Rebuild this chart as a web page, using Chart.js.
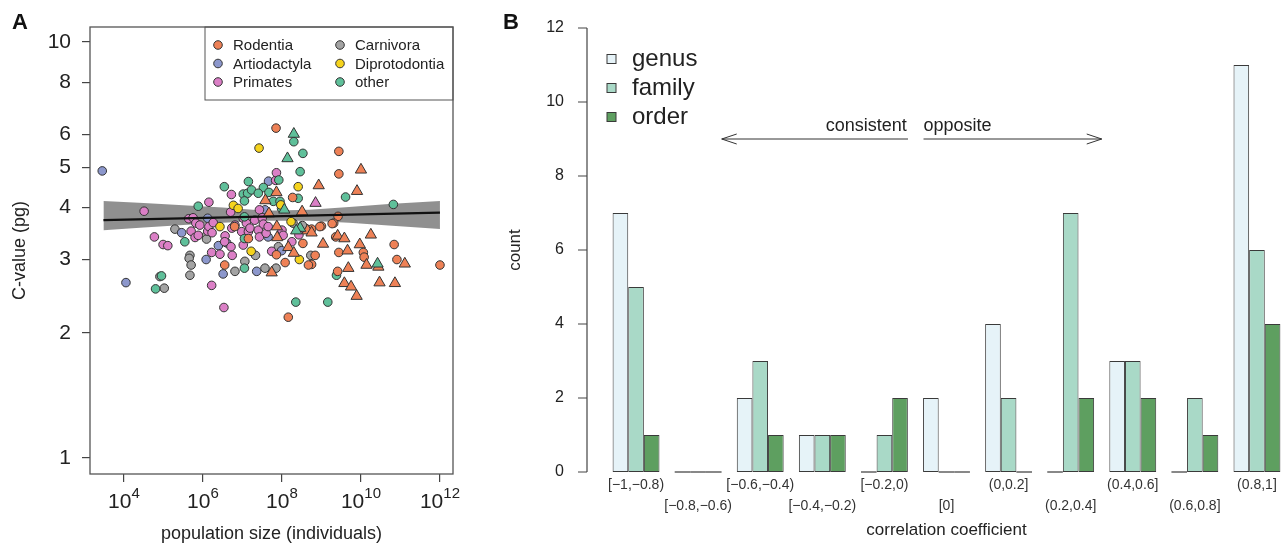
<!DOCTYPE html>
<html lang="en">
<head>
<meta charset="UTF-8">
<title>C-value vs population size</title>
<script src="https://cdn.jsdelivr.net/npm/chart.js"></script>
<style>
  body { margin: 0; background: #fff; font-family: "Liberation Sans", Arial, sans-serif; }
  .wrap { position: relative; width: 1288px; height: 543px; overflow: hidden; background: #fff; }
  #chartA { position: absolute; left: 0; top: 0; }
  #chartB { position: absolute; left: 480px; top: 0; }
  .panel { position: absolute; top: 9px; font-weight: bold; font-size: 22px; color: #111; }
</style>
</head>
<body>
<div class="wrap">
  <canvas id="chartA" width="480" height="543"></canvas>
  <canvas id="chartB" width="808" height="543"></canvas>
  <div class="panel" style="left: 12px;">A</div>
  <div class="panel" style="left: 503px;">B</div>
</div>
<script>
// ---- panel A data: [log10 population size, C-value (pg)] ----
const rodentia = [[7.85,6.21],[9.44,5.46],[9.44,4.82],[8.27,4.23],[9.42,3.81],[9.31,3.67],[9.0,3.61],[8.75,3.55],[8.53,3.28],[10.84,3.26],[9.44,3.12],[10.06,3.12],[10.08,3.04],[10.91,3.0],[12.0,2.91],[8.75,2.92],[8.08,2.95],[6.55,2.91],[6.8,3.6],[7.15,3.37],[8.67,2.91],[8.96,3.60],[9.27,3.66],[8.84,3.07],[9.36,3.40],[9.41,2.81],[8.16,2.18],[7.86,3.08]];
const rodentiaTri = [[7.86,4.35],[7.58,4.16],[8.93,4.52],[9.9,4.38],[10.0,4.93],[7.67,3.87],[8.51,3.91],[7.87,3.60],[7.88,3.39],[8.16,3.21],[8.3,3.11],[8.65,3.52],[8.75,3.48],[9.04,3.27],[9.41,3.42],[9.58,3.37],[10.25,3.44],[9.97,3.26],[9.66,3.15],[10.14,2.91],[9.68,2.86],[11.11,2.93],[9.58,2.63],[9.75,2.58],[9.89,2.45],[10.47,2.64],[10.86,2.63],[7.74,2.79],[10.44,2.88]];
const artiodactyla = [[3.45,4.90],[4.05,2.64],[6.08,3.0],[5.46,3.48],[6.12,3.77],[7.66,4.63],[6.39,3.24],[6.6,3.29],[7.65,3.40],[7.99,3.15],[7.36,2.81],[6.51,2.77],[7.57,3.95]];
const primates = [[4.51,3.92],[4.77,3.40],[4.99,3.26],[5.11,3.24],[5.64,3.76],[5.75,3.78],[5.70,3.51],[5.80,3.39],[5.88,3.43],[5.82,3.67],[5.92,3.63],[6.12,3.51],[6.15,3.60],[6.26,3.68],[6.23,3.48],[6.15,4.12],[6.22,3.12],[6.22,2.60],[6.53,2.30],[6.43,3.09],[6.56,3.42],[6.55,3.31],[6.71,3.22],[6.74,3.07],[6.73,3.57],[6.81,3.63],[6.70,3.90],[6.72,4.30],[6.98,3.50],[7.02,3.25],[7.02,3.77],[7.10,3.67],[7.15,3.50],[7.19,3.57],[7.31,3.73],[7.40,3.53],[7.43,3.40],[7.43,3.95],[7.50,3.78],[7.53,3.65],[7.60,3.47],[7.65,3.60],[7.74,3.14],[7.84,4.65],[7.86,4.85],[8.0,3.53],[8.03,3.43],[8.25,3.31],[8.43,3.44]];
const primatesTri = [[8.85,4.10]];
const carnivora = [[4.91,2.73],[5.02,2.56],[5.29,3.55],[5.67,3.07],[5.65,3.02],[5.70,2.91],[5.67,2.75],[6.09,3.43],[6.09,3.36],[7.57,2.86],[7.85,2.86],[6.81,2.81],[7.06,2.97],[7.33,3.07],[7.91,3.22],[8.73,3.07],[8.52,3.62],[8.28,3.67]];
const diprotodontia = [[7.42,5.56],[8.41,4.49],[7.97,4.06],[6.77,4.05],[6.89,3.98],[6.43,3.60],[8.23,3.70],[8.44,3.0],[7.22,3.14]];
const other = [[8.30,5.76],[8.53,5.40],[8.46,4.88],[7.92,4.66],[7.15,4.62],[6.54,4.49],[7.02,4.31],[7.13,4.33],[7.23,4.41],[7.53,4.47],[7.40,4.33],[7.67,4.35],[7.05,4.15],[7.78,4.14],[7.95,4.14],[8.41,4.21],[7.99,3.98],[5.88,4.03],[4.95,2.74],[4.80,2.55],[5.54,3.31],[9.61,4.24],[10.82,4.07],[8.35,2.37],[9.16,2.37],[7.05,2.86],[9.38,2.75],[7.05,3.37],[7.05,3.80]];
const otherTri = [[8.30,6.01],[8.14,5.25],[8.06,3.95],[8.46,3.57],[8.36,3.52],[10.42,2.93]];

// regression line and its band
const fitLine = [[3.48,3.73],[12.0,3.89]];
const bandX = [3.48, 4.5, 5.5, 6.5, 7.6, 8.7, 9.7, 10.7, 12.0];
const bandUpper = [4.15, 4.10, 4.05, 4.00, 3.93, 3.95, 4.01, 4.08, 4.15];
const bandLower = [3.53, 3.58, 3.63, 3.68, 3.72, 3.72, 3.68, 3.62, 3.55];

const xTickExp = [4, 6, 8, 10, 12];
const yTicksA = [1, 2, 3, 4, 5, 6, 8, 10];

// ---- panel B data ----
const corrBins = ['[\u22121,\u22120.8)', '[\u22120.8,\u22120.6)', '[\u22120.6,\u22120.4)', '[\u22120.4,\u22120.2)', '[\u22120.2,0)', '[0]', '(0,0.2]', '(0.2,0.4]', '(0.4,0.6]', '(0.6,0.8]', '(0.8,1]'];
const genusCounts  = [7, 0, 2, 1, 0, 2, 4, 0, 3, 0, 11];
const familyCounts = [5, 0, 3, 1, 1, 0, 2, 7, 3, 2, 6];
const orderCounts  = [1, 0, 1, 1, 2, 0, 0, 2, 2, 1, 4];
const yTicksB = [0, 2, 4, 6, 8, 10, 12];

const fontFam = '"Liberation Sans", Arial, sans-serif';
Chart.defaults.font.family = fontFam;
Chart.defaults.color = '#222';

const groupColors = {
    Rodentia: '#EE8156', Artiodactyla: '#8C97CC', Primates: '#DB7FC6',
    Carnivora: '#A3A3A3', Diprotodontia: '#F5D31D', other: '#5FC09A'
};

function pts(arr) { return arr.map(p => ({ x: p[0], y: p[1] })); }

function dots(arr, color, order) {
    return { data: pts(arr), backgroundColor: color, borderColor: '#333', borderWidth: 1,
             pointStyle: 'circle', pointRadius: 4.3, order: order };
}
function tris(arr, color, order) {
    return { data: pts(arr), backgroundColor: color, borderColor: '#333', borderWidth: 1,
             pointStyle: 'triangle', pointRadius: 6.5, order: order };
}

// box around plot A, superscript x labels and the legend
const panelAExtras = {
    id: 'panelAExtras',
    afterDraw(chart) {
        const { ctx, chartArea: a, scales } = chart;
        ctx.save();
        ctx.strokeStyle = '#555';
        ctx.lineWidth = 1.3;
        ctx.strokeRect(a.left, a.top, a.right - a.left, a.bottom - a.top);

        // 10^n labels
        ctx.fillStyle = '#222';
        ctx.textBaseline = 'alphabetic';
        xTickExp.forEach(e => {
            const px = scales.x.getPixelForValue(e);
            ctx.font = '21px ' + fontFam;
            const w1 = ctx.measureText('10').width;
            ctx.font = '15px ' + fontFam;
            const w2 = ctx.measureText(String(e)).width;
            const left = px - (w1 + w2) / 2;
            ctx.font = '21px ' + fontFam;
            ctx.textAlign = 'left';
            ctx.fillText('10', left, a.bottom + 34);
            ctx.font = '15px ' + fontFam;
            ctx.fillText(String(e), left + w1, a.bottom + 24);
        });

        // legend
        const bx = a.right - 248, by = a.top;
        ctx.strokeStyle = '#555';
        ctx.lineWidth = 1;
        ctx.strokeRect(bx, by, 248, 73);
        const entries = [['Rodentia', 0, 0], ['Artiodactyla', 0, 1], ['Primates', 0, 2],
                         ['Carnivora', 1, 0], ['Diprotodontia', 1, 1], ['other', 1, 2]];
        ctx.font = '15px ' + fontFam;
        ctx.textBaseline = 'middle';
        entries.forEach(([name, col, row]) => {
            const cx = bx + (col ? 135 : 13);
            const cy = by + 18 + row * 18.5;
            ctx.beginPath();
            ctx.arc(cx, cy, 4.3, 0, Math.PI * 2);
            ctx.fillStyle = groupColors[name];
            ctx.fill();
            ctx.strokeStyle = '#333';
            ctx.stroke();
            ctx.fillStyle = '#222';
            ctx.fillText(name, cx + 15, cy + 1);
        });
        ctx.restore();
    }
};

const chartA = new Chart(document.getElementById('chartA'), {
    type: 'scatter',
    data: {
        datasets: [
            { type: 'line', data: pts(bandX.map((x, i) => [x, bandUpper[i]])), fill: '+1',
              backgroundColor: 'rgba(125,125,125,0.85)', borderWidth: 0, pointRadius: 0, order: 20 },
            { type: 'line', data: pts(bandX.map((x, i) => [x, bandLower[i]])), fill: false,
              borderWidth: 0, pointRadius: 0, order: 21 },
            dots(carnivora, groupColors.Carnivora, 12),
            dots(artiodactyla, groupColors.Artiodactyla, 11),
            dots(primates, groupColors.Primates, 10),
            dots(other, groupColors.other, 9),
            dots(diprotodontia, groupColors.Diprotodontia, 8),
            dots(rodentia, groupColors.Rodentia, 7),
            tris(rodentiaTri, groupColors.Rodentia, 5),
            tris(otherTri, groupColors.other, 4),
            tris(primatesTri, groupColors.Primates, 3),
            { type: 'line', data: pts(fitLine), borderColor: '#111', borderWidth: 2.2,
              pointRadius: 0, fill: false, order: 0 }
        ]
    },
    options: {
        responsive: false,
        animation: false,
        events: [],
        layout: { padding: { top: 27, right: 27, left: 0, bottom: 0 } },
        plugins: { legend: { display: false }, tooltip: { enabled: false } },
        scales: {
            x: {
                type: 'linear', min: 3.14, max: 12.33,
                afterBuildTicks: s => { s.ticks = xTickExp.map(v => ({ value: v })); },
                afterFit: s => { s.height = 69; },
                grid: { drawOnChartArea: false, drawTicks: true, tickLength: 8, color: '#444', lineWidth: 1.2 },
                border: { display: false },
                ticks: { callback: () => '', padding: 0 },
                title: { display: true, text: 'population size (individuals)', color: '#222',
                         font: { size: 18, lineHeight: 1 }, padding: { top: 0, bottom: 0 } }
            },
            y: {
                type: 'logarithmic', min: 0.915, max: 10.87,
                afterBuildTicks: s => { s.ticks = yTicksA.map(v => ({ value: v })); },
                afterFit: s => { s.width = 90; },
                grid: { drawOnChartArea: false, drawTicks: true, tickLength: 8, color: '#444', lineWidth: 1.2 },
                border: { display: false },
                ticks: { callback: v => String(v), font: { size: 21 }, padding: 11, color: '#222' },
                title: { display: true, text: 'C-value (pg)', color: '#222',
                         font: { size: 18, lineHeight: 1 }, padding: { top: 11, bottom: 0 } }
            }
        }
    },
    plugins: [panelAExtras]
});

// ---- panel B ----
const panelBExtras = {
    id: 'panelBExtras',
    afterDatasetsDraw(chart) {
        // zero-height bars show as a flat line, as in R barplot
        const { ctx } = chart;
        ctx.save();
        ctx.strokeStyle = '#3a3a3a';
        ctx.lineWidth = 1.2;
        chart.data.datasets.forEach((ds, di) => {
            const meta = chart.getDatasetMeta(di);
            ds.data.forEach((v, i) => {
                if (v !== 0) return;
                const el = meta.data[i];
                ctx.beginPath();
                ctx.moveTo(el.x - el.width / 2, el.base);
                ctx.lineTo(el.x + el.width / 2, el.base);
                ctx.stroke();
            });
        });
        ctx.restore();
    },
    afterDraw(chart) {
        const { ctx, chartArea: a, scales } = chart;
        const xs = scales.x, ys = scales.y;
        ctx.save();
        // y axis, R style (detached from the bars)
        const ax = a.left - 18;
        ctx.strokeStyle = '#444';
        ctx.lineWidth = 1.2;
        ctx.beginPath();
        ctx.moveTo(ax, ys.getPixelForValue(0));
        ctx.lineTo(ax, ys.getPixelForValue(12));
        yTicksB.forEach(v => {
            const py = ys.getPixelForValue(v);
            ctx.moveTo(ax - 9, py);
            ctx.lineTo(ax, py);
        });
        ctx.stroke();

        // legend
        const names = ['genus', 'family', 'order'];
        ctx.font = '24px ' + fontFam;
        ctx.textBaseline = 'middle';
        ctx.textAlign = 'left';
        names.forEach((n, i) => {
            const cy = a.top + 31 + i * 29;
            ctx.fillStyle = chart.data.datasets[i].backgroundColor;
            ctx.fillRect(a.left + 2, cy - 4.5, 9, 9);
            ctx.strokeStyle = '#3a3a3a';
            ctx.lineWidth = 1;
            ctx.strokeRect(a.left + 2, cy - 4.5, 9, 9);
            ctx.fillStyle = '#222';
            ctx.fillText(n, a.left + 27, cy);
        });

        // consistent / opposite arrows
        const ay = ys.getPixelForValue(9);
        ctx.strokeStyle = '#333';
        ctx.lineWidth = 1;
        const arrow = (from, to) => {
            const x1 = xs.getPixelForValue(from), x2 = xs.getPixelForValue(to);
            const dir = x2 > x1 ? 1 : -1;
            ctx.beginPath();
            ctx.moveTo(x1, ay);
            ctx.lineTo(x2, ay);
            ctx.moveTo(x2 - dir * 15, ay - 5);
            ctx.lineTo(x2, ay);
            ctx.lineTo(x2 - dir * 15, ay + 5);
            ctx.stroke();
        };
        arrow(4.38, 1.38);
        arrow(4.63, 7.5);
        ctx.fillStyle = '#222';
        ctx.font = '18px ' + fontFam;
        ctx.textBaseline = 'alphabetic';
        ctx.textAlign = 'right';
        ctx.fillText('consistent', xs.getPixelForValue(4.36), ay - 8);
        ctx.textAlign = 'left';
        ctx.fillText('opposite', xs.getPixelForValue(4.63), ay - 8);
        ctx.restore();
    }
};

const barStyle = { borderColor: '#3a3a3a', borderWidth: 1, borderSkipped: false,
                   barPercentage: 1, categoryPercentage: 0.755 };

const chartB = new Chart(document.getElementById('chartB'), {
    type: 'bar',
    data: {
        labels: corrBins,
        datasets: [
            Object.assign({ label: 'genus', data: genusCounts, backgroundColor: '#E6F3F8' }, barStyle),
            Object.assign({ label: 'family', data: familyCounts, backgroundColor: '#A9D9C7' }, barStyle),
            Object.assign({ label: 'order', data: orderCounts, backgroundColor: '#5E9F60' }, barStyle)
        ]
    },
    options: {
        responsive: false,
        animation: false,
        events: [],
        layout: { padding: { top: 28, right: 0, left: 0, bottom: 0 } },
        plugins: { legend: { display: false }, tooltip: { enabled: false } },
        scales: {
            x: {
                grid: { display: false, drawTicks: false },
                border: { display: false },
                afterFit: s => { s.height = 71; },
                ticks: {
                    autoSkip: false, maxRotation: 0, minRotation: 0, padding: 3, color: '#333',
                    font: { size: 14, lineHeight: 1.5 },
                    callback: function (v, i) {
                        const t = this.getLabelForValue(v);
                        return i % 2 ? ['', t] : t;
                    }
                },
                title: { display: true, text: 'correlation coefficient', color: '#222',
                         font: { size: 17, lineHeight: 1 }, padding: { top: 0, bottom: 4 } }
            },
            y: {
                min: 0, max: 12,
                afterBuildTicks: s => { s.ticks = yTicksB.map(v => ({ value: v })); },
                afterFit: s => { s.width = 125; },
                // invisible tick marks keep the labels clear of the detached axis
                grid: { display: false, drawTicks: true, tickLength: 38 },
                border: { display: false },
                ticks: { font: { size: 16 }, padding: 3, color: '#222' },
                title: { display: true, text: 'count', color: '#222',
                         font: { size: 17, lineHeight: 1 }, padding: { top: 27, bottom: 0 } }
            }
        }
    },
    plugins: [panelBExtras]
});
</script>
</body>
</html>
